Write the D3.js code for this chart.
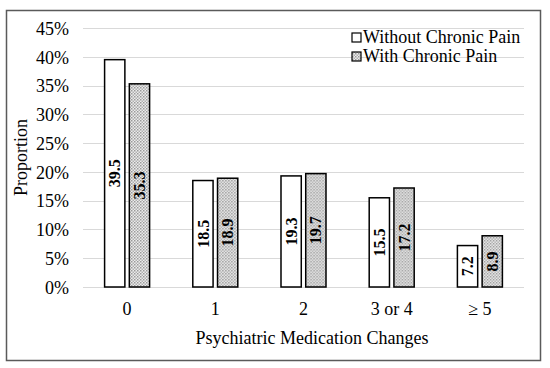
<!DOCTYPE html>
<html>
<head>
<meta charset="utf-8">
<script src="https://cdn.jsdelivr.net/npm/d3@7"></script>
<style>
  body { margin: 0; background: #fff; }
  svg text { font-family: "Liberation Serif", "Times New Roman", serif; fill: #000; }
</style>
</head>
<body>
<script>
// 数据
const categories = ['0', '1', '2', '3 or 4', '\u2265 5'];
const seriesNames = ['Without Chronic Pain', 'With Chronic Pain'];
const withoutPain = [39.5, 18.5, 19.3, 15.5, 7.2];
const withPain = [35.3, 18.9, 19.7, 17.2, 8.9];
const yTicks = [0, 5, 10, 15, 20, 25, 30, 35, 40, 45];

const width = 550;
const height = 368;

const plot = { left: 83, right: 524, top: 28, bottom: 287 };

const svg = d3.select('body')
    .append('svg')
    .attr('width', width)
    .attr('height', height);

// 网点填充
const defs = svg.append('defs');
const pat = defs.append('pattern')
    .attr('id', 'dots')
    .attr('width', 3)
    .attr('height', 3)
    .attr('patternUnits', 'userSpaceOnUse');
pat.append('rect').attr('width', 3).attr('height', 3).attr('fill', '#ececec');
pat.append('rect').attr('width', 1.5).attr('height', 1.5).attr('fill', '#9a9a9a');
pat.append('rect').attr('x', 1.5).attr('y', 1.5).attr('width', 1.5).attr('height', 1.5).attr('fill', '#b0b0b0');

// 外框
svg.append('rect')
    .attr('x', 6.5)
    .attr('y', 10.5)
    .attr('width', 534)
    .attr('height', 350)
    .attr('fill', 'none')
    .attr('stroke', '#5a5a5a')
    .attr('stroke-width', 1.5);

const yScale = d3.scaleLinear()
    .domain([0, 45])
    .range([plot.bottom, plot.top]);

const x0 = d3.scaleBand()
    .domain(categories)
    .range([plot.left, plot.right]);

const x1 = d3.scaleBand()
    .domain(seriesNames)
    .range([x0.bandwidth() / 2 - 22.5, x0.bandwidth() / 2 + 22.5])
    .paddingInner(0.18);

// 网格线
svg.append('g')
    .selectAll('line')
    .data(yTicks)
    .enter()
    .append('line')
    .attr('x1', plot.left)
    .attr('x2', plot.right)
    .attr('y1', d => Math.round(yScale(d)) + 0.5)
    .attr('y2', d => Math.round(yScale(d)) + 0.5)
    .attr('stroke', '#d9d9d9')
    .attr('stroke-width', 1.2);

// y轴
const yAxis = d3.axisLeft(yScale)
    .tickValues(yTicks)
    .tickSize(0)
    .tickPadding(0)
    .tickFormat(d => d + '%');

svg.append('g')
    .attr('transform', 'translate(69, 0)')
    .call(yAxis)
    .call(g => g.select('.domain').remove())
    .attr('font-family', null)
    .attr('font-size', null)
    .selectAll('text')
    .attr('font-size', 18)
    .attr('fill', '#000')
    .attr('dy', '0.35em');

// 柱子
const rows = categories.map((c, i) => ({ cat: c, values: [withoutPain[i], withPain[i]] }));

const groups = svg.selectAll('.grp')
    .data(rows)
    .enter()
    .append('g')
    .attr('class', 'grp')
    .attr('transform', d => 'translate(' + x0(d.cat) + ', 0)');

groups.selectAll('rect')
    .data(d => d.values.map((v, i) => ({ name: seriesNames[i], v: v })))
    .enter()
    .append('rect')
    .attr('x', d => x1(d.name))
    .attr('y', d => yScale(d.v))
    .attr('width', x1.bandwidth())
    .attr('height', d => yScale(0) - yScale(d.v))
    .attr('fill', (d, i) => i === 0 ? '#fff' : 'url(#dots)')
    .attr('stroke', '#000')
    .attr('stroke-width', 1.5);

groups.selectAll('text')
    .data(d => d.values.map((v, i) => ({ name: seriesNames[i], v: v })))
    .enter()
    .append('text')
    .attr('transform', d => {
        const cx = x1(d.name) + x1.bandwidth() / 2;
        const cy = (yScale(d.v) + yScale(0)) / 2;
        return 'translate(' + cx + ', ' + cy + ') rotate(-90)';
    })
    .attr('text-anchor', 'middle')
    .attr('dy', '0.35em')
    .attr('font-size', 16)
    .attr('font-weight', 'bold')
    .text(d => d.v.toFixed(1));

// x轴标签
svg.append('g')
    .selectAll('text')
    .data(categories)
    .enter()
    .append('text')
    .attr('x', d => x0(d) + x0.bandwidth() / 2)
    .attr('y', 315)
    .attr('text-anchor', 'middle')
    .attr('font-size', 18)
    .text(d => d);

// 轴标题
svg.append('text')
    .attr('x', 312)
    .attr('y', 344)
    .attr('text-anchor', 'middle')
    .attr('font-size', 18)
    .text('Psychiatric Medication Changes');

svg.append('text')
    .attr('transform', 'translate(27, ' + (plot.top + plot.bottom) / 2 + ') rotate(-90)')
    .attr('text-anchor', 'middle')
    .attr('font-size', 18)
    .text('Proportion');

// 图例
const legend = svg.append('g')
    .selectAll('g')
    .data(seriesNames)
    .enter()
    .append('g')
    .attr('transform', (d, i) => 'translate(352, ' + (37 + i * 19) + ')');

legend.append('rect')
    .attr('x', 0)
    .attr('y', -4)
    .attr('width', 9)
    .attr('height', 9)
    .attr('fill', (d, i) => i === 0 ? '#fff' : 'url(#dots)')
    .attr('stroke', '#000')
    .attr('stroke-width', 1.2);

legend.append('text')
    .attr('x', 11)
    .attr('dy', '0.35em')
    .attr('font-size', 18)
    .text(d => d);
</script>
</body>
</html>
